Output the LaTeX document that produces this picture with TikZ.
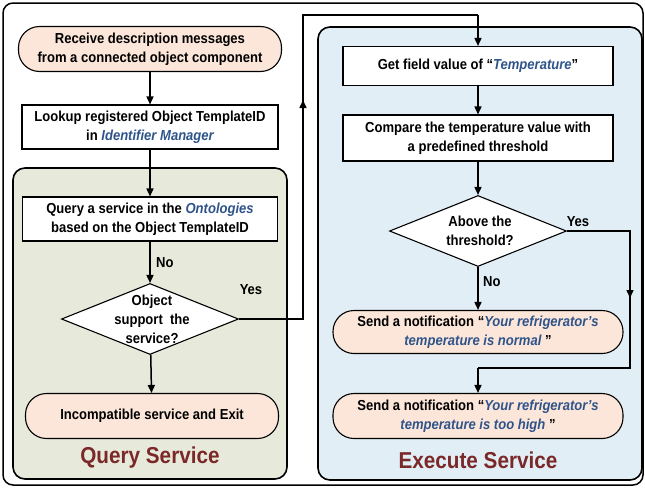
\documentclass[tikz,border=0pt]{standalone}
\usepackage{fontspec}
\setmainfont{Liberation Sans}[FakeStretch=0.9]
\usetikzlibrary{shapes.geometric,arrows.meta}
\definecolor{panelgreen}{RGB}{231,233,218}
\definecolor{panelblue}{RGB}{226,238,245}
\definecolor{peach}{RGB}{252,230,218}
\definecolor{titlered}{RGB}{122,40,40}
\definecolor{termblue}{RGB}{47,84,138}
\newcommand{\kw}[1]{{\color{termblue}\itshape #1}}
\tikzset{
  every node/.style={font=\bfseries\fontsize{14.5}{18.5}\selectfont},
  panel/.style={draw, line width=1.6pt, rounded corners=12pt},
  procbox/.style={draw, line width=1.1pt, fill=white, align=center, inner sep=0pt},
  termbox/.style={draw, line width=1.1pt, fill=peach, rounded corners=21pt, align=center, inner sep=0pt},
  decision/.style={draw, line width=1.1pt, fill=white, diamond, inner sep=0pt, minimum width=177pt, minimum height=71pt},
  flow/.style={line width=1.5pt, -{Triangle[length=8pt,width=7pt]}},
  wire/.style={line width=1.5pt},
  paneltitle/.style={font=\bfseries\fontsize{23}{25}\selectfont, text=titlered},
  lbl/.style={inner sep=1pt}
}
\begin{document}
\begin{tikzpicture}[x=1pt,y=-1pt]
\useasboundingbox (0,0) rectangle (645,488);
% outer frame and the two service panels
\draw[line width=1.5pt, rounded corners=10pt] (3,3) rectangle (643,485);
\draw[panel, fill=panelgreen] (13,168) rectangle (287,479);
\draw[panel, fill=panelblue] (318,27) rectangle (642,480);

% query side
\node[termbox, minimum width=263pt, minimum height=45pt] (recv) at (150,49)
  {Receive description messages\\from a connected object component};
\node[procbox, minimum width=256pt, minimum height=44pt] (lookup) at (150,127)
  {Lookup registered Object TemplateID\\in \kw{Identifier Manager}};
\node[procbox, minimum width=255pt, minimum height=44pt] (query) at (150,219)
  {Query a service in the \kw{Ontologies}\\based on the Object TemplateID};
\node[decision] (support) at (150,319) {};
\node[align=center, font=\bfseries\fontsize{14.5}{19}\selectfont] (supportt) at (152,319)
  {Object\\support\ \ the\\service?};
\node[termbox, minimum width=253pt, minimum height=45pt] (incompat) at (152,416)
  {Incompatible service and Exit};
\node[paneltitle] (qtitle) at (150,458) {Query Service};

% execute side
\node[procbox, minimum width=270pt, minimum height=39pt] (getfield) at (478,66)
  {Get field value of ``\kw{Temperature}''};
\node[procbox, minimum width=270pt, minimum height=46pt] (compare) at (478,138)
  {Compare the temperature value with\\a predefined threshold};
\node[decision] (above) at (478,231) {};
\node[align=center] (abovet) at (480,231) {Above the\\threshold?};
\node[termbox, minimum width=290pt, minimum height=43pt] (normal) at (478,332)
  {Send a notification ``\kw{Your refrigerator's}\\\kw{temperature is normal} ''};
\node[termbox, minimum width=290pt, minimum height=45pt] (high) at (478,416)
  {Send a notification ``\kw{Your refrigerator's}\\\kw{temperature is too high} ''};
\node[paneltitle] (etitle) at (478,460) {Execute Service};

% connectors
\draw[flow] (recv) -- (lookup);
\draw[flow] (lookup) -- (query);
\draw[flow] (query) -- (support);
\draw[flow] (support) -- (incompat);
\node[lbl, anchor=west] (no1) at (155,263) {No};
\node[lbl] (yes1) at (251,290) {Yes};

\coordinate (ya) at (303,15);
\coordinate (yb) at (478,15);
\draw[wire] (support.east) -| (ya) -- (yb);
\draw[flow] (yb) -- (getfield);
\draw[flow] (303,125) -- (303,100);

\draw[flow] (getfield) -- (compare);
\draw[flow] (compare) -- (above);
\draw[flow] (above) -- (normal);
\node[lbl, anchor=west] (no2) at (482,282) {No};
\node[lbl] (yes2) at (578,222) {Yes};

\coordinate (yc) at (630,368);
\coordinate (yd) at (478,368);
\draw[wire] (above.east) -| (yc) -- (yd);
\draw[flow] (yd) -- (high);
\draw[flow] (630,275) -- (630,298);
\end{tikzpicture}
\end{document}
